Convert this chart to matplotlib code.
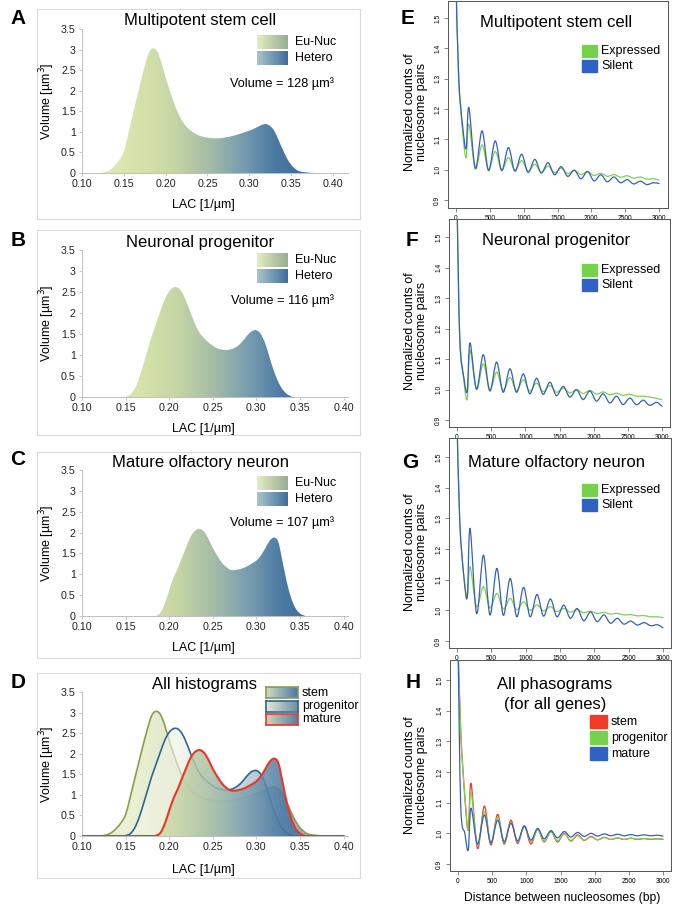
import numpy as np
import matplotlib
matplotlib.use("Agg")
import matplotlib.pyplot as plt
from matplotlib.colors import LinearSegmentedColormap
from matplotlib.patches import Rectangle, PathPatch
from matplotlib.path import Path

plt.rcParams['font.family'] = ['Liberation Sans', 'DejaVu Sans']

# ---- LAC histograms (volume per LAC bin) ----
lac_stem = [0.10, 0.12, 0.125, 0.13, 0.135, 0.14, 0.145, 0.15, 0.155, 0.16, 0.165, 0.17, 0.175,
            0.18, 0.185, 0.19, 0.195, 0.20, 0.205, 0.21, 0.215, 0.22, 0.225, 0.23, 0.235, 0.24,
            0.245, 0.25, 0.26, 0.27, 0.28, 0.29, 0.30, 0.305, 0.31, 0.315, 0.32, 0.325, 0.33,
            0.335, 0.34, 0.345, 0.35, 0.355, 0.36, 0.37, 0.38, 0.40]
vol_stem = [0, 0, 0.01, 0.04, 0.10, 0.20, 0.33, 0.52, 0.92, 1.35, 1.78, 2.20, 2.60,
            2.93, 3.03, 2.95, 2.68, 2.32, 2.00, 1.70, 1.45, 1.26, 1.12, 1.03, 0.96, 0.91,
            0.88, 0.86, 0.84, 0.86, 0.90, 0.96, 1.03, 1.07, 1.12, 1.17, 1.19, 1.14, 1.02,
            0.80, 0.57, 0.36, 0.20, 0.10, 0.04, 0.01, 0, 0]

lac_prog = [0.10, 0.145, 0.15, 0.155, 0.16, 0.165, 0.17, 0.175, 0.18, 0.185, 0.19, 0.195, 0.20,
            0.205, 0.21, 0.215, 0.22, 0.225, 0.23, 0.235, 0.24, 0.245, 0.25, 0.255, 0.26, 0.265,
            0.27, 0.275, 0.28, 0.285, 0.29, 0.295, 0.30, 0.305, 0.31, 0.315, 0.32, 0.325, 0.33,
            0.335, 0.34, 0.345, 0.40]
vol_prog = [0, 0, 0.01, 0.05, 0.18, 0.42, 0.75, 1.10, 1.45, 1.75, 2.05, 2.33, 2.52,
            2.61, 2.60, 2.48, 2.25, 1.98, 1.72, 1.52, 1.40, 1.30, 1.22, 1.16, 1.13, 1.12,
            1.13, 1.17, 1.24, 1.35, 1.48, 1.57, 1.59, 1.50, 1.28, 0.95, 0.62, 0.36, 0.18,
            0.07, 0.02, 0, 0]

lac_mat = [0.10, 0.18, 0.185, 0.19, 0.195, 0.20, 0.205, 0.21, 0.215, 0.22, 0.225, 0.23, 0.235,
           0.24, 0.245, 0.25, 0.255, 0.26, 0.265, 0.27, 0.275, 0.28, 0.285, 0.29, 0.295, 0.30,
           0.305, 0.31, 0.315, 0.32, 0.325, 0.33, 0.335, 0.34, 0.345, 0.35, 0.355, 0.36, 0.40]
vol_mat = [0, 0, 0.01, 0.08, 0.30, 0.62, 0.92, 1.15, 1.42, 1.68, 1.92, 2.05, 2.09,
           2.02, 1.85, 1.63, 1.45, 1.29, 1.18, 1.11, 1.10, 1.12, 1.15, 1.20, 1.26, 1.33,
           1.45, 1.62, 1.80, 1.88, 1.78, 1.30, 0.80, 0.42, 0.18, 0.06, 0.01, 0, 0]

hist_titles = ["Multipotent stem cell", "Neuronal progenitor", "Mature olfactory neuron"]
volumes = [128, 116, 107]

# ---- phasograms ----
dist_bp = [0, 40, 100, 150, 190, 285, 385, 480, 580, 675, 775, 870, 970, 1065, 1165, 1260,
           1360, 1455, 1555, 1650, 1750, 1845, 1945, 2040, 2140, 2235, 2335, 2430, 2530,
           2625, 2725, 2820, 2920, 3000]

e_silent = [1.62, 1.30, 1.14, 1.07, 1.205, 1.005, 1.128, 0.997, 1.095, 0.997, 1.073, 0.995,
            1.051, 0.991, 1.034, 0.989, 1.023, 0.983, 1.010, 0.978, 0.998, 0.970, 0.994, 0.963,
            0.983, 0.960, 0.976, 0.957, 0.967, 0.953, 0.962, 0.951, 0.957, 0.954]
e_expr = [1.62, 1.30, 1.12, 1.04, 1.15, 1.003, 1.082, 1.000, 1.060, 0.999, 1.040, 0.998,
          1.030, 0.995, 1.018, 0.992, 1.012, 0.990, 1.005, 0.987, 0.998, 0.984, 0.993, 0.981,
          0.988, 0.978, 0.984, 0.975, 0.980, 0.972, 0.976, 0.969, 0.970, 0.966]
f_silent = [1.62, 1.17, 1.04, 0.995, 1.153, 1.002, 1.114, 0.995, 1.090, 0.991, 1.068, 0.991,
            1.051, 0.986, 1.037, 0.984, 1.024, 0.980, 1.010, 0.975, 0.999, 0.967, 0.995, 0.962,
            0.986, 0.956, 0.978, 0.951, 0.972, 0.950, 0.965, 0.948, 0.958, 0.945]
f_expr = [1.62, 1.17, 1.03, 0.969, 1.128, 1.000, 1.084, 0.999, 1.057, 0.997, 1.040, 0.996,
          1.032, 0.995, 1.021, 0.993, 1.013, 0.991, 1.005, 0.989, 1.000, 0.987, 0.997, 0.985,
          0.992, 0.983, 0.988, 0.981, 0.984, 0.978, 0.978, 0.975, 0.971, 0.966]
g_silent = [1.62, 1.29, 1.11, 1.044, 1.267, 0.990, 1.180, 0.985, 1.137, 0.984, 1.104, 0.979,
            1.075, 0.979, 1.052, 0.981, 1.037, 0.979, 1.017, 0.974, 1.006, 0.966, 0.995, 0.963,
            0.985, 0.958, 0.974, 0.955, 0.965, 0.952, 0.960, 0.950, 0.953, 0.943]
g_expr = [1.62, 1.29, 1.11, 1.044, 1.142, 1.012, 1.077, 1.008, 1.055, 1.004, 1.039, 1.002,
          1.028, 1.000, 1.018, 0.998, 1.012, 0.996, 1.006, 0.994, 1.002, 0.992, 0.997, 0.990,
          0.993, 0.988, 0.990, 0.985, 0.986, 0.982, 0.983, 0.979, 0.979, 0.976]
h_stem = [1.62, 1.33, 1.12, 1.01, 1.163, 0.951, 1.089, 0.962, 1.062, 0.965, 1.043, 0.967,
          1.024, 0.965, 1.013, 0.972, 1.007, 0.972, 1.000, 0.975, 0.995, 0.977, 0.990, 0.979,
          0.987, 0.980, 0.985, 0.980, 0.984, 0.980, 0.983, 0.980, 0.982, 0.980]
h_prog = [1.62, 1.33, 1.12, 1.01, 1.136, 0.962, 1.071, 0.968, 1.052, 0.970, 1.036, 0.972,
          1.021, 0.973, 1.011, 0.975, 1.004, 0.976, 0.998, 0.977, 0.992, 0.978, 0.988, 0.979,
          0.986, 0.980, 0.985, 0.980, 0.984, 0.981, 0.983, 0.981, 0.982, 0.981]
h_mat = [1.62, 1.09, 1.00, 0.946, 1.082, 0.965, 1.060, 0.969, 1.043, 0.973, 1.033, 0.975,
         1.024, 0.978, 1.016, 0.982, 1.009, 0.985, 1.006, 0.988, 1.003, 0.990, 1.000, 0.991,
         0.998, 0.992, 0.997, 0.992, 0.996, 0.992, 0.995, 0.992, 0.994, 0.991]

W, H = 682, 914
fig = plt.figure(figsize=(W / 100, H / 100), dpi=100)


def px_axes(l, t, r, b):
    return fig.add_axes([l / W, 1 - b / H, (r - l) / W, (b - t) / H])


def ftext(x, y, s, **kw):
    return fig.text(x / W, 1 - y / H, s, **kw)


def smooth_path(x, y, close=False):
    # smoothed line through the points (Catmull-Rom drawn as Bezier segments)
    x = np.asarray(x, float)
    y = np.asarray(y, float)
    n = len(x)
    verts = [(x[0], y[0])]
    codes = [Path.MOVETO]
    for i in range(n - 1):
        i0 = max(i - 1, 0)
        i3 = min(i + 2, n - 1)
        c1 = (x[i] + (x[i + 1] - x[i0]) / 6, y[i] + (y[i + 1] - y[i0]) / 6)
        c2 = (x[i + 1] - (x[i3] - x[i]) / 6, y[i + 1] - (y[i3] - y[i]) / 6)
        verts += [c1, c2, (x[i + 1], y[i + 1])]
        codes += [Path.CURVE4] * 3
    if close:
        verts += [(x[-1], 0), (x[0], 0), (x[0], y[0])]
        codes += [Path.LINETO, Path.LINETO, Path.CLOSEPOLY]
    return Path(verts, codes)


def smooth_line(ax, x, y, color, lw, z):
    ax.add_patch(PathPatch(smooth_path(x, y), fill=False, edgecolor=color, lw=lw,
                           zorder=z, capstyle='round', joinstyle='round'))


grad_main = LinearSegmentedColormap.from_list(
    "lac", [(0.0, '#e0eab8'), (0.19, '#d6e2aa'), (0.35, '#c4d5a4'), (0.50, '#a6bda6'),
            (0.65, '#7b9fb0'), (0.81, '#4a79a3'), (1.0, '#3a6898')])
grad_prog = LinearSegmentedColormap.from_list(
    "lacp", [(0.0, '#f6f8ee'), (0.35, '#eef2e2'), (0.55, '#c9d6d6'), (0.75, '#7f9fbc'),
             (1.0, '#5a84ab')])


def gradient_fill(ax, x, y, cmap=grad_main, alpha=1.0, z=1):
    grad = np.linspace(0, 1, 256).reshape(1, -1)
    im = ax.imshow(grad, cmap=cmap, aspect='auto', extent=[0.12, 0.38, 0, 3.5],
                   origin='lower', alpha=alpha, zorder=z, interpolation='bilinear')
    im.set_clip_path(smooth_path(x, y, close=True), transform=ax.transData)


def style_left(ax, xmax):
    ax.set_xlim(0.10, xmax)
    ax.set_ylim(0, 3.5)
    for s in ['top', 'right']:
        ax.spines[s].set_visible(False)
    for s in ['left', 'bottom']:
        ax.spines[s].set_color('#bfbfbf')
        ax.spines[s].set_linewidth(0.7)
    yt = np.arange(0, 3.51, 0.5)
    ax.set_yticks(yt)
    ax.set_yticklabels(['%g' % v for v in yt])
    xt = np.arange(0.10, 0.401, 0.05)
    ax.set_xticks(xt)
    ax.set_xticklabels(['%.2f' % v for v in xt])
    ax.tick_params(length=2.5, width=0.6, color='#bfbfbf', labelsize=7.7,
                   labelcolor='#222222', pad=2)


def grad_patch(l, t, r, b, c0, c1, edge=None):
    pa = px_axes(l, t, r, b)
    cm = LinearSegmentedColormap.from_list('p', [c0, c1])
    pa.imshow(np.linspace(0, 1, 64).reshape(1, -1), cmap=cm, aspect='auto',
              interpolation='bilinear')
    pa.set_xticks([])
    pa.set_yticks([])
    for s in pa.spines.values():
        if edge is None:
            s.set_visible(False)
        else:
            s.set_color(edge)
            s.set_linewidth(1.2)


# outer chart boxes of the left column
for (t, b) in [(9, 219), (230, 435), (452, 658), (673, 878)]:
    fig.add_artist(Rectangle((37 / W, 1 - b / H), (360 - 37) / W, (b - t) / H,
                             transform=fig.transFigure, fill=False,
                             edgecolor='#dadada', linewidth=0.8))

# ---- panels A-C ----
left_pos = [(29, 173, 0.418), (250, 397, 0.405), (470, 616, 0.405)]
title_y = [20, 242, 463]
leg_y = [35, 253, 476]
vol_y = [84, 301, 523]
hist_data = [(lac_stem, vol_stem), (lac_prog, vol_prog), (lac_mat, vol_mat)]
for i in range(3):
    t, b, xmax = left_pos[i]
    ax = px_axes(82, t, 348, b)
    x, y = hist_data[i]
    gradient_fill(ax, x, y)
    style_left(ax, xmax)
    ftext(200, title_y[i], hist_titles[i], fontsize=12, ha='center', va='center')
    ly = leg_y[i]
    grad_patch(257, ly, 288, ly + 14, '#e3eec0', '#97ac92')
    grad_patch(257, ly + 16, 288, ly + 30, '#a9c5c8', '#3f6e9e')
    ftext(295, ly + 7, "Eu-Nuc", fontsize=9, va='center')
    ftext(295, ly + 23, "Hetero", fontsize=9, va='center')
    ftext(282, vol_y[i], "Volume = %d µm³" % volumes[i], fontsize=9.2, ha='center',
          va='center')
    ftext(47, (t + b) / 2, "Volume [µm$^3$]", fontsize=9, rotation=90, ha='center',
          va='center')
    ftext(203, b + 32, "LAC [1/µm]", fontsize=9, ha='center', va='center')

# ---- panel D ----
ax = px_axes(82, 692, 348, 836)
d_series = [(lac_stem, vol_stem, '#8a9d50', grad_main, 0.55, 1.2),
            (lac_prog, vol_prog, '#2f6596', grad_prog, 0.65, 1.2),
            (lac_mat, vol_mat, '#ee3526', grad_main, 0.85, 1.5)]
for k, (x, y, c, cm, al, lw) in enumerate(d_series):
    gradient_fill(ax, x, y, cmap=cm, alpha=al, z=1 + 2 * k)
    smooth_line(ax, x, y, c, lw, 2 + 2 * k)
style_left(ax, 0.405)
ftext(205, 684, "All histograms", fontsize=12, ha='center', va='center')
ftext(47, 764, "Volume [µm$^3$]", fontsize=9, rotation=90, ha='center', va='center')
ftext(203, 870, "LAC [1/µm]", fontsize=9, ha='center', va='center')
d_leg = [("stem", '#d3ddbd', '#4a78a6', '#8a9d50'),
         ("progenitor", '#e2e9d2', '#6f90a8', '#2f6596'),
         ("mature", '#c9d8bd', '#55809f', '#ee3526')]
for k, (lab, c0, c1, ec) in enumerate(d_leg):
    ty = 687 + k * 13.5
    grad_patch(266, ty, 298, ty + 11, c0, c1, edge=ec)
    ftext(302, ty + 5.5, lab, fontsize=9, va='center')

# ---- panels E-H ----
GREEN = '#7fd150'
BLUE = '#3561bb'
RED = '#f03a28'


def right_axes(l, r, p0, p3000, t, b, p15, p09):
    ax = px_axes(l, t, r, b)
    bpp = 3000 / (p3000 - p0)
    ax.set_xlim((l - p0) * bpp, (r - p0) * bpp)
    vpp = 0.6 / (p09 - p15)
    ax.set_ylim(1.5 - (b - p15) * vpp, 1.5 - (t - p15) * vpp)
    for s in ax.spines.values():
        s.set_color('#555555')
        s.set_linewidth(0.7)
    ax.set_xticks(range(0, 3001, 500))
    ax.set_yticks([0.9, 1.0, 1.1, 1.2, 1.3, 1.4, 1.5])
    ax.set_yticklabels(['0.9', '1.0', '1.1', '1.2', '1.3', '1.4', '1.5'], rotation=90,
                       va='center')
    ax.tick_params(length=3, width=0.5, color='#555555', labelsize=4.8, pad=2)
    return ax


right_geo = [(448, 668, 456, 659, 1, 208, 18, 200),
             (449, 670, 457, 662, 219, 427, 237, 420),
             (449, 671, 457, 663, 438, 648, 457, 641),
             (450, 671, 458, 663, 660, 871, 680, 864)]
pairs = [(e_expr, e_silent), (f_expr, f_silent), (g_expr, g_silent)]
rt_y = [23, 241, 462]
rl_y = [45, 264, 484]
ylab_y = [112, 331, 552, 775]
for i in range(3):
    ax = right_axes(*right_geo[i])
    ex, si = pairs[i]
    smooth_line(ax, dist_bp, ex, GREEN, 0.9, 3)
    smooth_line(ax, dist_bp, si, BLUE, 0.9, 4)
    ftext(556, rt_y[i], hist_titles[i], fontsize=12, ha='center', va='center')
    ly = rl_y[i]
    fig.add_artist(Rectangle((582 / W, 1 - (ly + 12) / H), 15 / W, 12 / H,
                             transform=fig.transFigure, color='#77d24b'))
    fig.add_artist(Rectangle((582 / W, 1 - (ly + 27) / H), 15 / W, 12 / H,
                             transform=fig.transFigure, color='#2f62c4'))
    ftext(601, ly + 6, "Expressed", fontsize=9, va='center')
    ftext(601, ly + 21, "Silent", fontsize=9, va='center')

ax = right_axes(*right_geo[3])
smooth_line(ax, dist_bp, h_stem, RED, 0.9, 3)
smooth_line(ax, dist_bp, h_prog, GREEN, 0.9, 4)
smooth_line(ax, dist_bp, h_mat, BLUE, 0.9, 5)
ftext(555, 685, "All phasograms", fontsize=12, ha='center', va='center')
ftext(555, 704, "(for all genes)", fontsize=12, ha='center', va='center')
h_leg = [("stem", '#f23a24'), ("progenitor", '#77d24b'), ("mature", '#2f62c4')]
for k, (lab, c) in enumerate(h_leg):
    ty = 715 + k * 16
    fig.add_artist(Rectangle((590 / W, 1 - (ty + 13) / H), 17 / W, 13 / H,
                             transform=fig.transFigure, color=c))
    ftext(611, ty + 7, lab, fontsize=9, va='center')
ftext(562, 898, "Distance between nucleosomes (bp)", fontsize=8.7, ha='center',
      va='center')

for yc in ylab_y:
    ftext(416, yc, "Normalized counts of\nnucleosome pairs", fontsize=9, rotation=90,
          ha='center', va='center', linespacing=1.1)

# panel letters
for lab, x, y in [("A", 18, 18), ("B", 18, 240), ("C", 18, 460), ("D", 18, 682),
                  ("E", 408, 18), ("F", 412, 240), ("G", 410, 462), ("H", 413, 682)]:
    ftext(x, y, lab, fontsize=15, fontweight='bold', ha='center', va='center')

fig.savefig("out.png", dpi=100)
